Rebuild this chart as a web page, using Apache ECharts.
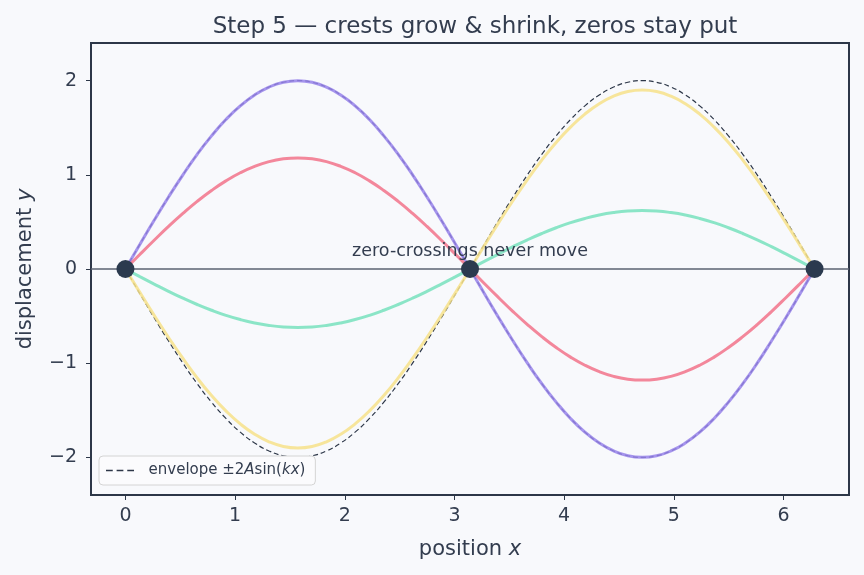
<!DOCTYPE html>
<html>
<head>
<meta charset="utf-8">
<script src="https://cdn.jsdelivr.net/npm/echarts@6/dist/echarts.min.js"></script>
<style>
html,body{margin:0;padding:0;background:#f8f9fc;}
#c{width:864px;height:575px;}
</style>
</head>
<body>
<div id="c"></div>
<script>
// positions x (0 .. 2π)
const xs = [0, 0.131, 0.262, 0.393, 0.524, 0.654, 0.785, 0.916, 1.047, 1.178, 1.309, 1.440, 1.571,
            1.702, 1.833, 1.963, 2.094, 2.225, 2.356, 2.487, 2.618, 2.749, 2.880, 3.011, 3.142,
            3.272, 3.403, 3.534, 3.665, 3.796, 3.927, 4.058, 4.189, 4.320, 4.451, 4.581, 4.712,
            4.843, 4.974, 5.105, 5.236, 5.367, 5.498, 5.629, 5.760, 5.890, 6.021, 6.152, 6.283];
const purpleY = [0, 0.261, 0.518, 0.765, 1.000, 1.218, 1.414, 1.587, 1.732, 1.848, 1.932, 1.983, 2.000,
                 1.983, 1.932, 1.848, 1.732, 1.587, 1.414, 1.218, 1.000, 0.765, 0.518, 0.261, 0,
                 -0.261, -0.518, -0.765, -1.000, -1.218, -1.414, -1.587, -1.732, -1.848, -1.932, -1.983, -2.000,
                 -1.983, -1.932, -1.848, -1.732, -1.587, -1.414, -1.218, -1.000, -0.765, -0.518, -0.261, 0];
const redY = [0, 0.154, 0.305, 0.452, 0.590, 0.718, 0.834, 0.936, 1.022, 1.090, 1.140, 1.170, 1.180,
              1.170, 1.140, 1.090, 1.022, 0.936, 0.834, 0.718, 0.590, 0.452, 0.305, 0.154, 0,
              -0.154, -0.305, -0.452, -0.590, -0.718, -0.834, -0.936, -1.022, -1.090, -1.140, -1.170, -1.180,
              -1.170, -1.140, -1.090, -1.022, -0.936, -0.834, -0.718, -0.590, -0.452, -0.305, -0.154, 0];
const greenY = [0, -0.081, -0.160, -0.237, -0.310, -0.377, -0.438, -0.492, -0.537, -0.573, -0.599, -0.615, -0.620,
                -0.615, -0.599, -0.573, -0.537, -0.492, -0.438, -0.377, -0.310, -0.237, -0.160, -0.081, 0,
                0.081, 0.160, 0.237, 0.310, 0.377, 0.438, 0.492, 0.537, 0.573, 0.599, 0.615, 0.620,
                0.615, 0.599, 0.573, 0.537, 0.492, 0.438, 0.377, 0.310, 0.237, 0.160, 0.081, 0];
const yellowY = [0, -0.248, -0.492, -0.727, -0.950, -1.157, -1.344, -1.507, -1.645, -1.755, -1.835, -1.884, -1.900,
                 -1.884, -1.835, -1.755, -1.645, -1.507, -1.344, -1.157, -0.950, -0.727, -0.492, -0.248, 0,
                 0.248, 0.492, 0.727, 0.950, 1.157, 1.344, 1.507, 1.645, 1.755, 1.835, 1.884, 1.900,
                 1.884, 1.835, 1.755, 1.645, 1.507, 1.344, 1.157, 0.950, 0.727, 0.492, 0.248, 0];
const envUpper = [0, 0.261, 0.518, 0.765, 1.000, 1.218, 1.414, 1.587, 1.732, 1.848, 1.932, 1.983, 2.000,
                  1.983, 1.932, 1.848, 1.732, 1.587, 1.414, 1.218, 1.000, 0.765, 0.518, 0.261, 0,
                  -0.261, -0.518, -0.765, -1.000, -1.218, -1.414, -1.587, -1.732, -1.848, -1.932, -1.983, -2.000,
                  -1.983, -1.932, -1.848, -1.732, -1.587, -1.414, -1.218, -1.000, -0.765, -0.518, -0.261, 0];
const envLower = [0, -0.261, -0.518, -0.765, -1.000, -1.218, -1.414, -1.587, -1.732, -1.848, -1.932, -1.983, -2.000,
                  -1.983, -1.932, -1.848, -1.732, -1.587, -1.414, -1.218, -1.000, -0.765, -0.518, -0.261, 0,
                  0.261, 0.518, 0.765, 1.000, 1.218, 1.414, 1.587, 1.732, 1.848, 1.932, 1.983, 2.000,
                  1.983, 1.932, 1.848, 1.732, 1.587, 1.414, 1.218, 1.000, 0.765, 0.518, 0.261, 0];
const nodesX = [0, 3.1416, 6.2832];
const nodesY = [0, 0, 0];
const xTicks = [0, 1, 2, 3, 4, 5, 6];
const yTicks = [-2, -1, 0, 1, 2];

const pairs = (a, b) => a.map((v, i) => [v, b[i]]);
const FONT = 'DejaVu Sans';
const DARK = '#2d3748';
const TXT = '#333d4f';

const chart = echarts.init(document.getElementById('c'), null, {renderer: 'canvas'});
const curve = (name, ys, color) => ({
  name, type: 'line', data: pairs(xs, ys), smooth: true, symbol: 'none',
  lineStyle: {color, width: 3, opacity: 0.85}, itemStyle: {color}, z: 3, silent: true
});
const envStyle = {color: DARK, width: 1.2, type: [5, 3]};

chart.setOption({
  backgroundColor: '#f8f9fc',
  animation: false,
  textStyle: {fontFamily: FONT},
  title: {
    text: 'Step 5 — crests grow & shrink, zeros stay put',
    left: 470, top: 11, textAlign: 'center',
    textStyle: {fontFamily: FONT, fontSize: 23, fontWeight: 'normal', color: TXT}
  },
  grid: {left: 91, right: 15, top: 43, bottom: 80, show: true, borderColor: DARK, borderWidth: 2, backgroundColor: 'transparent'},
  legend: {
    data: [{name: 'envelope', icon: 'path://M0,0 L7,0 L7,1.6 L0,1.6 Z M11,0 L18,0 L18,1.6 L11,1.6 Z M22,0 L29,0 L29,1.6 L22,1.6 Z'}],
    left: 99, top: 456, orient: 'vertical',
    itemWidth: 28, itemHeight: 12, itemGap: 5,
    backgroundColor: '#fbfbfd', borderColor: '#d4d4d4', borderWidth: 1, borderRadius: 4,
    padding: [7, 10, 7, 7],
    itemStyle: {color: DARK},
    formatter: () => '{n|  envelope ±2}{i|A}{n|sin(}{i|kx}{n|)}',
    textStyle: {fontFamily: FONT, fontSize: 15, color: TXT,
      rich: {
        n: {fontFamily: FONT, fontSize: 15, color: TXT},
        i: {fontStyle: 'italic', fontFamily: FONT, fontSize: 15, color: TXT}
      }}
  },
  xAxis: {
    type: 'value', min: -0.314, max: 6.597,
    name: '{n|position }{i|x}', nameLocation: 'middle', nameGap: 44,
    nameTextStyle: {fontFamily: FONT, fontSize: 21, color: TXT,
      rich: {
        n: {fontFamily: FONT, fontSize: 21, color: TXT},
        i: {fontStyle: 'italic', fontFamily: FONT, fontSize: 21, color: TXT}
      }},
    axisLine: {show: false, onZero: false},
    axisTick: {show: true, customValues: xTicks, length: 5, lineStyle: {color: DARK, width: 1}},
    axisLabel: {customValues: xTicks, margin: 12, fontSize: 19, color: TXT, fontFamily: FONT},
    splitLine: {show: false}
  },
  yAxis: {
    type: 'value', min: -2.4, max: 2.4,
    name: '{n|displacement }{i|y}', nameLocation: 'middle', nameGap: 55, nameRotate: 90,
    nameTextStyle: {fontFamily: FONT, fontSize: 21, color: TXT,
      rich: {
        n: {fontFamily: FONT, fontSize: 21, color: TXT},
        i: {fontStyle: 'italic', fontFamily: FONT, fontSize: 21, color: TXT}
      }},
    axisLine: {show: false, onZero: false},
    axisTick: {show: true, customValues: yTicks, length: 5, lineStyle: {color: DARK, width: 1}},
    axisLabel: {customValues: yTicks, margin: 14, fontSize: 19, color: TXT, fontFamily: FONT,
      formatter: v => v < 0 ? '\u2212' + Math.abs(v) : String(v)},
    splitLine: {show: false}
  },
  series: [
    {
      name: 'envelope', type: 'line', data: pairs(xs, envUpper), smooth: true, symbol: 'none',
      lineStyle: envStyle, itemStyle: {color: DARK}, z: 2, silent: true,
      markLine: {
        silent: true, symbol: 'none', label: {show: false},
        lineStyle: {color: '#5b6272', width: 1.5, type: 'solid'},
        data: [{yAxis: 0}]
      }
    },
    {
      name: 'envelope-', type: 'line', data: pairs(xs, envLower), smooth: true, symbol: 'none',
      lineStyle: envStyle, itemStyle: {color: DARK}, z: 2, silent: true
    },
    curve('purple', purpleY, '#9783ea'),
    curve('red', redY, '#f27389'),
    curve('green', greenY, '#78e2bd'),
    curve('yellow', yellowY, '#f7e28a'),
    {
      name: 'nodes', type: 'scatter', data: pairs(nodesX, nodesY), symbolSize: 18,
      itemStyle: {color: '#2b3a4e', opacity: 1}, z: 10, silent: true,
      markPoint: {
        symbol: 'circle', symbolSize: 0,
        data: [{coord: [3.1416, 0], value: 'zero-crossings never move'}],
        label: {show: true, formatter: 'zero-crossings never move', offset: [0, -18],
          fontFamily: FONT, fontSize: 17.5, color: TXT}
      }
    }
  ]
});
</script>
</body>
</html>
